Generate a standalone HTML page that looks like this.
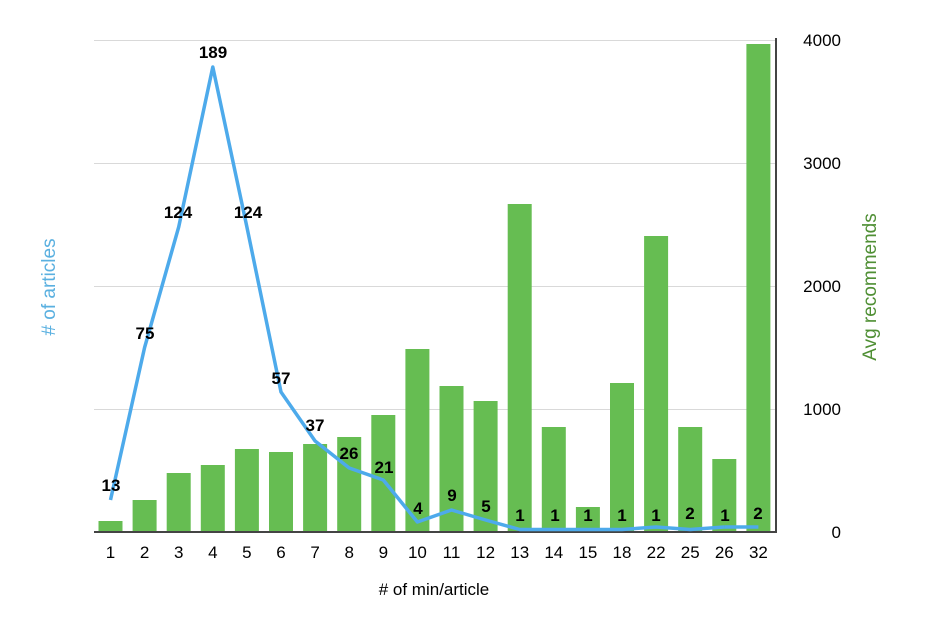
<!DOCTYPE html>
<html><head><meta charset="utf-8"><style>
html,body{margin:0;padding:0;background:#fff;}
svg{display:block;font-family:"Liberation Sans",Arial,sans-serif;}
</style></head><body>
<svg width="925" height="632" viewBox="0 0 925 632" xmlns="http://www.w3.org/2000/svg">
<g stroke="#d9d9d9" stroke-width="1">
<line x1="94" y1="40.5" x2="776" y2="40.5"/>
<line x1="94" y1="163.5" x2="776" y2="163.5"/>
<line x1="94" y1="286.5" x2="776" y2="286.5"/>
<line x1="94" y1="409.5" x2="776" y2="409.5"/>
</g>
<g fill="#66bd52">
<rect x="98.5" y="521" width="24" height="11"/>
<rect x="132.6" y="500" width="24" height="32"/>
<rect x="166.7" y="473" width="24" height="59"/>
<rect x="200.8" y="465" width="24" height="67"/>
<rect x="234.9" y="449" width="24" height="83"/>
<rect x="269" y="452" width="24" height="80"/>
<rect x="303.1" y="444" width="24" height="88"/>
<rect x="337.2" y="437" width="24" height="95"/>
<rect x="371.3" y="415" width="24" height="117"/>
<rect x="405.4" y="349" width="24" height="183"/>
<rect x="439.5" y="386" width="24" height="146"/>
<rect x="473.6" y="401" width="24" height="131"/>
<rect x="507.7" y="204" width="24" height="328"/>
<rect x="541.8" y="427" width="24" height="105"/>
<rect x="575.9" y="507" width="24" height="25"/>
<rect x="610" y="383" width="24" height="149"/>
<rect x="644.1" y="236" width="24" height="296"/>
<rect x="678.2" y="427" width="24" height="105"/>
<rect x="712.3" y="459" width="24" height="73"/>
<rect x="746.4" y="44" width="24" height="488"/>
</g>
<line x1="94" y1="532" x2="777" y2="532" stroke="#444" stroke-width="2"/>
<line x1="776" y1="38" x2="776" y2="533" stroke="#444" stroke-width="2"/>
<polyline fill="none" stroke="#4daaeb" stroke-width="3.5" stroke-linejoin="round" points="110.5,500 144.6,347.5 178.7,227 212.8,67 246.9,227 281,392 315.1,441 349.2,468 383.3,480 417.4,522 451.5,510 485.6,520 519.7,529.5 553.8,529.5 587.9,529.5 622,529.5 656.1,527 690.2,529.5 724.3,527"/>
<line x1="724.3" y1="527" x2="758.4" y2="527" stroke="#4daaeb" stroke-width="3.5"/>
<g font-weight="bold" font-size="17" text-anchor="middle" fill="#000">
<text x="111" y="491">13</text>
<text x="145" y="339">75</text>
<text x="178" y="218">124</text>
<text x="213" y="58">189</text>
<text x="248" y="218">124</text>
<text x="281" y="384">57</text>
<text x="315" y="431">37</text>
<text x="349" y="459">26</text>
<text x="384" y="473">21</text>
<text x="418" y="514">4</text>
<text x="452" y="501">9</text>
<text x="486" y="512">5</text>
<text x="520" y="521">1</text>
<text x="555" y="521">1</text>
<text x="588" y="521">1</text>
<text x="622" y="521">1</text>
<text x="656" y="521">1</text>
<text x="690" y="519">2</text>
<text x="725" y="521">1</text>
<text x="758" y="519">2</text>
</g>
<g font-size="17" text-anchor="middle" fill="#000">
<text x="110.5" y="558">1</text><text x="144.6" y="558">2</text><text x="178.7" y="558">3</text><text x="212.8" y="558">4</text><text x="246.9" y="558">5</text><text x="281" y="558">6</text><text x="315.1" y="558">7</text><text x="349.2" y="558">8</text><text x="383.3" y="558">9</text><text x="417.4" y="558">10</text><text x="451.5" y="558">11</text><text x="485.6" y="558">12</text><text x="519.7" y="558">13</text><text x="553.8" y="558">14</text><text x="587.9" y="558">15</text><text x="622" y="558">18</text><text x="656.1" y="558">22</text><text x="690.2" y="558">25</text><text x="724.3" y="558">26</text><text x="758.4" y="558">32</text>
<text x="434" y="595">&#35; of min/article</text>
</g>
<g font-size="17" text-anchor="end" fill="#000">
<text x="841" y="46">4000</text>
<text x="841" y="169">3000</text>
<text x="841" y="292">2000</text>
<text x="841" y="415">1000</text>
<text x="841" y="538">0</text>
</g>
<text transform="translate(55,287) rotate(-90)" font-size="19" text-anchor="middle" fill="#5ab0e0">&#35; of articles</text>
<text transform="translate(876,287) rotate(-90)" font-size="19" text-anchor="middle" fill="#4f8f34">Avg recommends</text>
</svg>
</body></html>
